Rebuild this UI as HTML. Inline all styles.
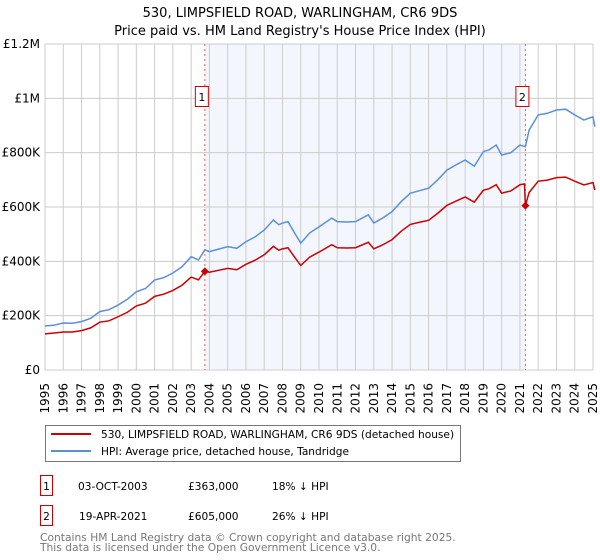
<!DOCTYPE html>
<html><head><meta charset="utf-8"><style>
body{margin:0;background:#fff;font-family:"DejaVu Sans","Liberation Sans",sans-serif;}
svg{display:block}
</style></head><body>
<svg width="600" height="560" viewBox="0 0 600 560" font-family="DejaVu Sans, Liberation Sans, sans-serif">
<text x="300" y="17" text-anchor="middle" font-size="13">530, LIMPSFIELD ROAD, WARLINGHAM, CR6 9DS</text>
<text x="300" y="35" text-anchor="middle" font-size="13">Price paid vs. HM Land Registry's House Price Index (HPI)</text>
<g id="plot"></g>
<g>
<rect x="45.5" y="425.5" width="415" height="36" fill="#fff" stroke="#777"/>
<line x1="51" y1="434" x2="91" y2="434" stroke="#cc0000" stroke-width="2"/>
<text x="101" y="438" font-size="10.6">530, LIMPSFIELD ROAD, WARLINGHAM, CR6 9DS (detached house)</text>
<line x1="51" y1="451" x2="91" y2="451" stroke="#5b8fd6" stroke-width="2"/>
<text x="101" y="455" font-size="10.6">HPI: Average price, detached house, Tandridge</text>
</g>
<g font-size="10.6">
<rect x="40.5" y="475.5" width="12" height="20" fill="#fff" stroke="#cc0000"/>
<text x="46.5" y="490" text-anchor="middle">1</text>
<text x="78" y="490">03-OCT-2003</text>
<text x="188" y="490">£363,000</text>
<text x="272" y="490">18% ↓ HPI</text>
<rect x="40.5" y="505.5" width="12" height="20" fill="#fff" stroke="#cc0000"/>
<text x="46.5" y="520" text-anchor="middle">2</text>
<text x="79" y="520">19-APR-2021</text>
<text x="188" y="520">£605,000</text>
<text x="272" y="520">26% ↓ HPI</text>
</g>
<text x="40" y="541" font-size="10.7" fill="#777">Contains HM Land Registry data © Crown copyright and database right 2025.</text>
<text x="40" y="551" font-size="10.7" fill="#777">This data is licensed under the Open Government Licence v3.0.</text>
</svg>
<script>
const hpiYears=[1995,1995.5,1996,1996.5,1997,1997.5,1998,1998.5,1999,1999.5,2000,2000.5,2001,2001.5,2002,2002.5,2003,2003.4,2003.75,2004,2004.5,2005,2005.5,2006,2006.5,2007,2007.5,2007.8,2008,2008.3,2008.7,2009,2009.5,2010,2010.7,2011,2011.5,2012,2012.7,2013,2013.5,2014,2014.5,2015,2015.5,2016,2016.5,2017,2017.5,2018,2018.5,2019,2019.3,2019.7,2020,2020.5,2021,2021.3,2021.5,2022,2022.5,2023,2023.5,2024,2024.5,2025,2025.1];
const hpiValues=[162,165,173,172,178,190,215,222,239,260,288,300,331,340,357,380,417,405,442,436,445,454,448,472,490,515,552,535,541,546,500,467,505,527,559,546,545,546,571,541,560,583,620,651,660,669,700,736,755,773,750,804,810,828,791,800,828,822,883,939,945,957,960,939,920,932,896];
const saleYears=[1995,1995.5,1996,1996.5,1997,1997.5,1998,1998.5,1999,1999.5,2000,2000.5,2001,2001.5,2002,2002.5,2003,2003.4,2003.75,2004,2004.5,2005,2005.5,2006,2006.5,2007,2007.5,2007.8,2008,2008.3,2008.7,2009,2009.5,2010,2010.7,2011,2011.5,2012,2012.7,2013,2013.5,2014,2014.5,2015,2015.5,2016,2016.5,2017,2017.5,2018,2018.5,2019,2019.3,2019.7,2020,2020.5,2021,2021.25,2021.3,2021.5,2022,2022.5,2023,2023.5,2024,2024.5,2025,2025.1];
const saleValues=[133,136,140,140,145,155,176,181,196,212,236,246,271,279,293,312,342,332,363,360,367,374,369,389,404,424,455,441,446,450,412,385,416,434,461,450,449,450,470,446,461,480,511,536,544,551,577,606,622,637,618,662,667,682,651,659,682,685,605,653,695,699,708,710,695,681,690,663];
const sales=[{y:2003.75,v:363,label:"1"},{y:2021.3,v:605,label:"2"}];
const yTicks=[0,200,400,600,800,1000,1200];
const yTickLabels=["£0","£200K","£400K","£600K","£800K","£1M","£1.2M"];
const xTicks=[];for(let y=1995;y<=2025;y++)xTicks.push(y);

const X0=45,X1=593,Y0=370,Y1=44;
const xs=y=>X0+(y-1995)/30*(X1-X0);
const ys=v=>Y0-v/1200*(Y0-Y1);
const NS="http://www.w3.org/2000/svg";
const g=document.getElementById('plot');
function mk(t,a){const e=document.createElementNS(NS,t);for(const k in a)e.setAttribute(k,a[k]);g.appendChild(e);return e;}

const shade=mk('rect',{x:xs(sales[0].y),y:Y1,width:xs(sales[1].y)-xs(sales[0].y),height:Y0-Y1,fill:'#eef3fc',opacity:0.7});


xTicks.forEach(y=>{
  const l=mk('line',{x1:xs(y),x2:xs(y),y1:Y1,y2:Y0,stroke:'#ccc','stroke-width':1});
  
  
  const t=mk('text',{transform:`translate(${xs(y)+4},${Y0+13}) rotate(-90)`,'text-anchor':'end','font-size':12});
  t.textContent=y;
  
  
});
yTicks.forEach((v,i)=>{
  const l=mk('line',{x1:X0,x2:X1,y1:ys(v),y2:ys(v),stroke:'#ccc','stroke-width':1});
  
  
  const t=mk('text',{x:X0-5,y:ys(v)+4,'text-anchor':'end','font-size':12});
  t.textContent=yTickLabels[i];
  
  
});
sales.forEach(s=>{
  const l=mk('line',{x1:xs(s.y),x2:xs(s.y),y1:Y1,y2:Y0,stroke:'#f06060','stroke-width':1,'stroke-dasharray':'2,3'});
  
  
});
const hp=mk('polyline',{points:hpiYears.map((y,i)=>xs(y)+','+ys(hpiValues[i])).join(' '),fill:'none',stroke:'#5b8fd6','stroke-width':1.5});


const sp=mk('polyline',{points:saleYears.map((y,i)=>xs(y)+','+ys(saleValues[i])).join(' '),fill:'none',stroke:'#cc0000','stroke-width':1.5});


sales.forEach(s=>{
  const cx=xs(s.y),cy=ys(s.v);
  const d=mk('polygon',{points:`${cx},${cy-4} ${cx+4},${cy} ${cx},${cy+4} ${cx-4},${cy}`,fill:'#cc0000'});
  
  
  const b=mk('rect',{x:cx-9.5,y:86.5,width:13,height:20,fill:'#fff',stroke:'#cc0000'});
  
  
  const t=mk('text',{x:cx-3,y:101,'text-anchor':'middle','font-size':11});
  t.textContent=s.label;
  
  
});
</script>
</body></html>
